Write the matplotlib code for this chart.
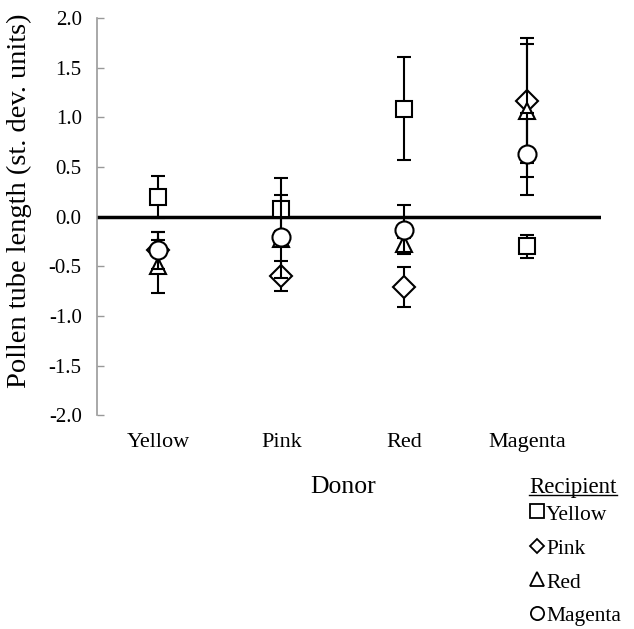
import matplotlib
matplotlib.use("Agg")
import matplotlib.pyplot as plt
from matplotlib.lines import Line2D

plt.rcParams['font.family'] = ['Liberation Serif', 'DejaVu Serif']

donors = ["Yellow", "Pink", "Red", "Magenta"]
recipients = ["Yellow", "Pink", "Red", "Magenta"]
markers = ["s", "D", "^", "o"]

# means per recipient (rows) across donors (columns)
means = {
    "Yellow":  [0.20, 0.08, 1.09, -0.30],
    "Pink":    [-0.34, -0.60, -0.71, 1.17],
    "Red":     [-0.50, -0.22, -0.28, 1.07],
    "Magenta": [-0.34, -0.20, -0.13, 0.63],
}
errs = {
    "Yellow":  [0.21, 0.31, 0.52, 0.12],
    "Pink":    [0.19, 0.15, 0.20, 0.63],
    "Red":     [0.27, 0.08, 0.07, 0.67],
    "Magenta": [0.19, 0.42, 0.25, 0.41],
}
yticks = [-2.0, -1.5, -1.0, -0.5, 0.0, 0.5, 1.0, 1.5, 2.0]

fig = plt.figure(figsize=(6.34, 6.29), dpi=100)
ax = fig.add_axes([0.153, 0.340, 0.795, 0.631])

xpos = [i + 0.5 for i in range(len(donors))]
ax.axhline(0, color="black", lw=2.5, zorder=2)
msizes = {"s": 12, "D": 11, "^": 12, "o": 13}
for z, (rec, m) in enumerate(zip(recipients, markers)):
    ax.errorbar(xpos, means[rec], yerr=errs[rec], fmt=m, ms=msizes[m],
                mfc="white", mec="black", mew=1.5, ecolor="black",
                elinewidth=1.5, capsize=5, capthick=1.5, zorder=3 + z)

ax.set_xlim(0, 4.1)
ax.set_ylim(-2.0, 2.0)
ax.set_yticks(yticks)
ax.set_yticklabels([f"{t:.1f}" for t in yticks], fontsize=15)
ax.set_xticks(xpos)
ax.set_xticklabels(donors, fontsize=16)
ax.tick_params(axis="x", length=0, pad=13)
ax.tick_params(axis="y", direction="in", length=5, color="#999999", width=1, pad=11)
for s in ["top", "right", "bottom"]:
    ax.spines[s].set_visible(False)
ax.spines["left"].set_color("#999999")
ax.spines["left"].set_linewidth(1.2)

fig.text(343 / 634, 1 - 487 / 629, "Donor", fontsize=18.5, ha="center", va="center")
fig.text(19 / 634, 1 - 201 / 629, "Pollen tube length (st. dev. units)", fontsize=20.5,
         rotation=90, ha="center", va="center")

# legend
t = fig.text(573 / 634, 1 - 487 / 629, "Recipient", fontsize=16.5, ha="center", va="center")
fig.canvas.draw()
bb = t.get_window_extent().transformed(fig.transFigure.inverted())
fig.add_artist(Line2D([bb.x0, bb.x1], [bb.y0 + 0.004, bb.y0 + 0.004],
                      transform=fig.transFigure, color="black", lw=1))
rows_y = [515, 550, 583, 617]
for rec, m, yy in zip(recipients, markers, rows_y):
    fig.add_artist(Line2D([537 / 634], [1 - (yy - 4.5) / 629], transform=fig.transFigure,
                          marker=m, ms=9.5 if m != "D" else 7.5, mfc="white", mec="black",
                          mew=1.3, ls="none"))
    fig.text(546 / 634, 1 - yy / 629, rec, fontsize=15.5, ha="left", va="center")

fig.savefig("out.png", dpi=100)
